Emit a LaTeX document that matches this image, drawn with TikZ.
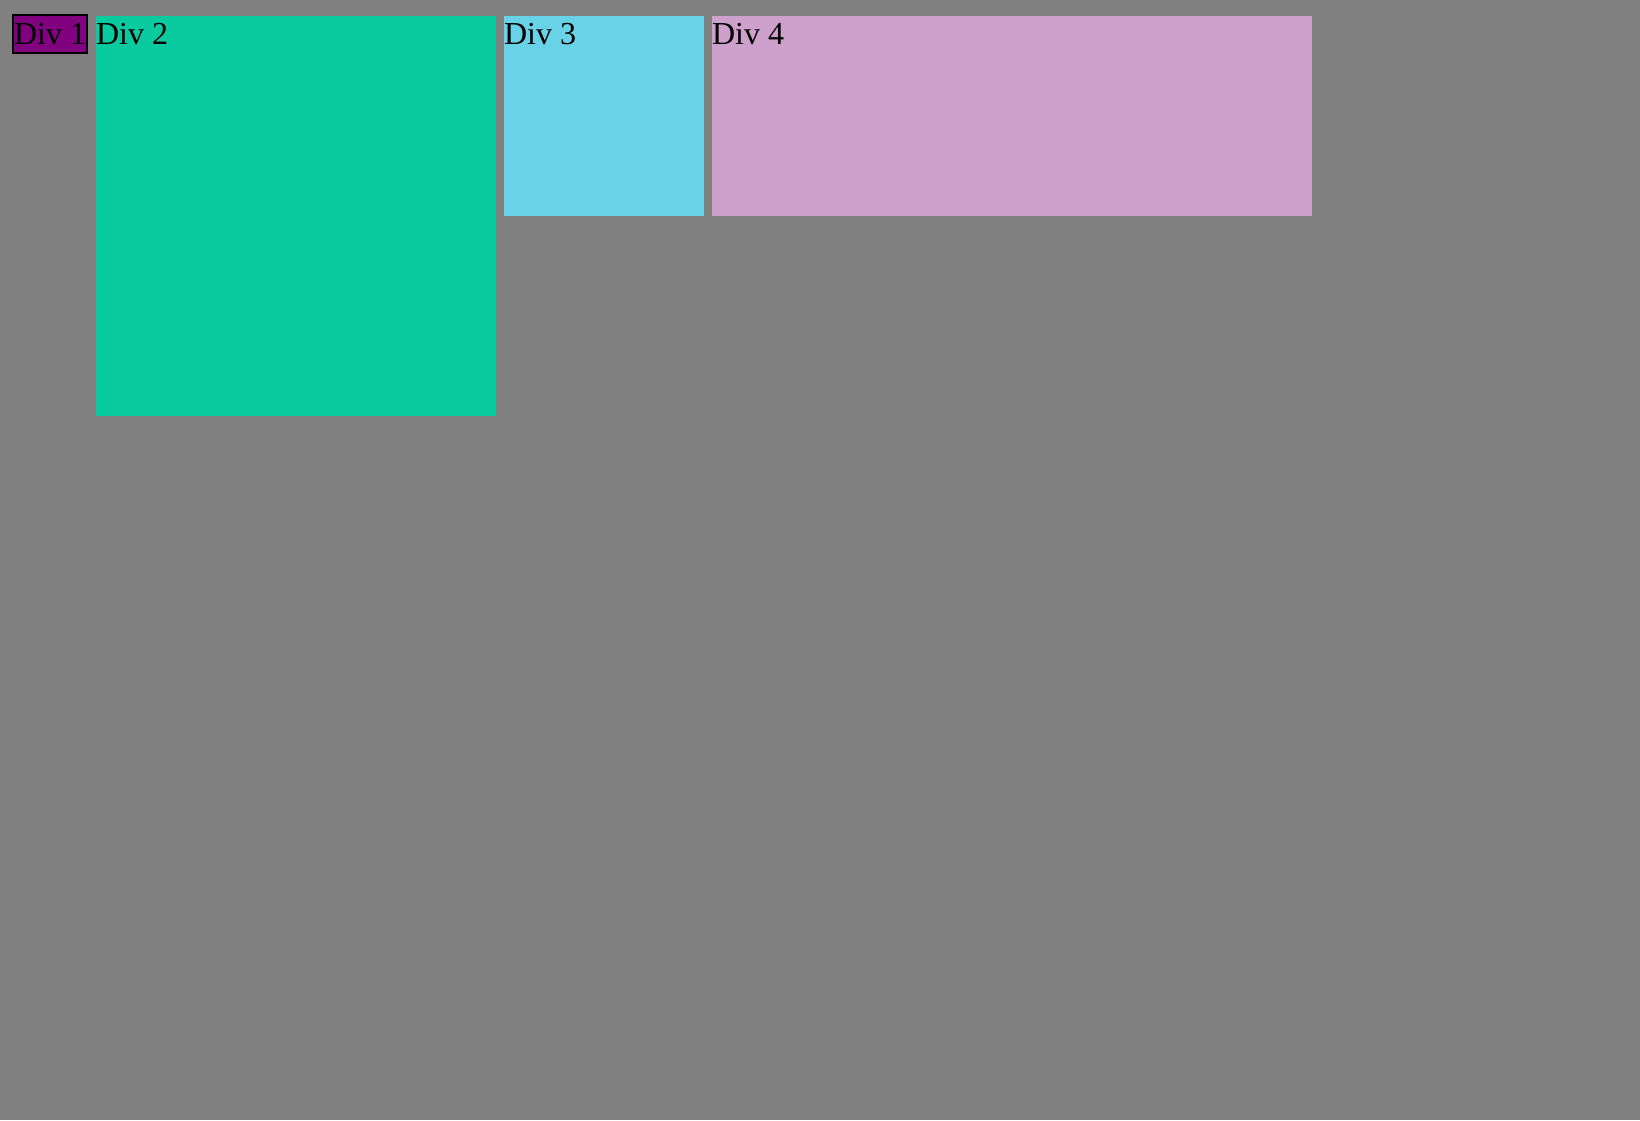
\documentclass[tikz,border=0pt]{standalone}
\usepackage{fontspec}
\setmainfont{Liberation Serif}
\usetikzlibrary{positioning,calc}
\definecolor{pagegray}{HTML}{808080}
\definecolor{divpurple}{HTML}{800080}
\definecolor{divgreen}{HTML}{0ACBA0}
\definecolor{divcyan}{HTML}{68D3E7}
\definecolor{divpink}{HTML}{CDA1CC}

\begin{document}
\begin{tikzpicture}[x=1pt, y=-1pt, font=\fontsize{32}{36}\selectfont, box/.style={anchor=north west, inner sep=0pt, outer sep=0pt, draw=none}, lbl/.style={anchor=base west, inner sep=0pt, outer sep=0pt}]
\fill[pagegray] (0,0) rectangle (1640,1120);
\useasboundingbox (0,0) rectangle (1640,1120);
\node[box, draw=black, line width=2pt, fill=divpurple, minimum width=74pt, minimum height=38pt] (div1) at (13,15) {};
\node[box, fill=divgreen, minimum width=400pt, minimum height=400pt] (div2) at (96,16) {};
\node[box, fill=divcyan, minimum width=200pt, minimum height=200pt] (div3) at (504,16) {};
\node[box, fill=divpink, minimum width=600pt, minimum height=200pt] (div4) at (712,16) {};
\node[lbl] (t1) at ($(div1.north west)+(1,29.5)$) {Div 1};
\node[lbl] (t2) at ($(div2.north west)+(0,28.5)$) {Div 2};
\node[lbl] (t3) at ($(div3.north west)+(0,28.5)$) {Div 3};
\node[lbl] (t4) at ($(div4.north west)+(0,28.5)$) {Div 4};
\end{tikzpicture}
\end{document}
